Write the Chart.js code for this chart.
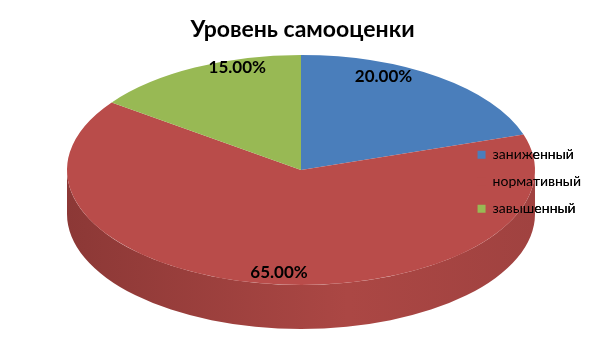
<!DOCTYPE html>
<html>
<head>
<meta charset="utf-8">
<script src="https://cdn.jsdelivr.net/npm/chart.js@4.4.1/dist/chart.umd.min.js"></script>
<style>
    html, body { margin: 0; padding: 0; background: #fff; }
    #wrap { width: 605px; height: 340px; }
</style>
</head>
<body>
<div id="wrap"><canvas id="pieChart"></canvas></div>
<script>
const TITLE      = 'Уровень самооценки';
const categories = ['заниженный', 'нормативный', 'завышенный'];
const shares     = [20, 65, 15];

const topColors  = ['#4a7ebb', '#b94c4a', '#98b954'];
const sideDark   = ['#365f8f', '#8c3836', '#718a3e'];
const sideMid    = ['#4470a6', '#ab4744', '#87a54c'];
const sideRight  = ['#3f689a', '#a04240', '#7f9b47'];

// ellipse the flat pie gets squashed into (3d look)
const CX = 301, CY = 170, RX = 234, RY = 115, DEPTH = 44;
const LABEL_FX = 0.6, LABEL_FY = 0.95, LABEL_DY = -5;
const FONT = 'Lato, "Open Sans", sans-serif';


// parts of [start, end] that face the viewer (canvas angle 0..PI)
function frontRanges(s, e) {
    const out = [];
    [-2 * Math.PI, 0, 2 * Math.PI].forEach(k => {
        const a = Math.max(s + k, 0);
        const b = Math.min(e + k, Math.PI);
        if (b > a) out.push([a, b]);
    });
    return out;
}

const pie3d = {
    id: 'pie3d',
    beforeDatasetsDraw(chart) {
        const ctx  = chart.ctx;
        const arcs = chart.getDatasetMeta(0).data;

        arcs.forEach((arc, i) => {
            frontRanges(arc.startAngle, arc.endAngle).forEach(([a1, a2]) => {
                const g = ctx.createLinearGradient(CX - RX, 0, CX + RX, 0);
                g.addColorStop(0, sideDark[i]);
                g.addColorStop(0.6, sideMid[i]);
                g.addColorStop(1, sideRight[i]);
                ctx.beginPath();
                ctx.ellipse(CX, CY, RX, RY, 0, a1, a2);
                ctx.ellipse(CX, CY + DEPTH, RX, RY, 0, a2, a1, true);
                ctx.closePath();
                ctx.fillStyle = g;
                ctx.fill();
            });
        });

        const a = arcs[0];
        ctx.save();
        ctx.translate(CX, CY);
        ctx.scale(RX / a.outerRadius, RY / a.outerRadius);
        ctx.translate(-a.x, -a.y);
    },
    afterDatasetsDraw(chart) {
        const ctx  = chart.ctx;
        const arcs = chart.getDatasetMeta(0).data;
        ctx.restore();

        ctx.save();
        ctx.font = 'bold 17px ' + FONT;
        ctx.fillStyle = '#000';
        ctx.textAlign = 'center';
        ctx.textBaseline = 'middle';
        arcs.forEach((arc, i) => {
            const mid = (arc.startAngle + arc.endAngle) / 2;
            const x = CX + Math.cos(mid) * RX * LABEL_FX;
            const y = CY + LABEL_DY + Math.sin(mid) * RY * LABEL_FY;
            ctx.fillText(shares[i].toFixed(2) + '%', x, y);
        });
        ctx.restore();

        // legend overlaps the pie, so paint it again on top
        chart.legend.draw(chart.chartArea);
    }
};


new Chart(document.getElementById('pieChart'), {
    type: 'pie',
    data: {
        labels: categories,
        datasets: [{
            data: shares,
            backgroundColor: topColors,
            borderWidth: 0,
            clip: false
        }]
    },
    options: {
        responsive: true,
        maintainAspectRatio: false,
        animation: false,
        layout: { padding: { left: 14, right: 14, bottom: 30 } },
        plugins: {
            title: {
                display: true,
                text: TITLE,
                color: '#000',
                font: { family: FONT, size: 23, weight: 'bold' },
                padding: { top: 16, bottom: 10 }
            },
            legend: {
                position: 'right',
                align: 'center',
                fullSize: false,
                labels: {
                    color: '#000',
                    font: { family: FONT, size: 14 },
                    boxWidth: 8,
                    boxHeight: 8,
                    padding: 13
                }
            },
            tooltip: { enabled: false }
        }
    },
    plugins: [pie3d]
});
</script>
</body>
</html>
